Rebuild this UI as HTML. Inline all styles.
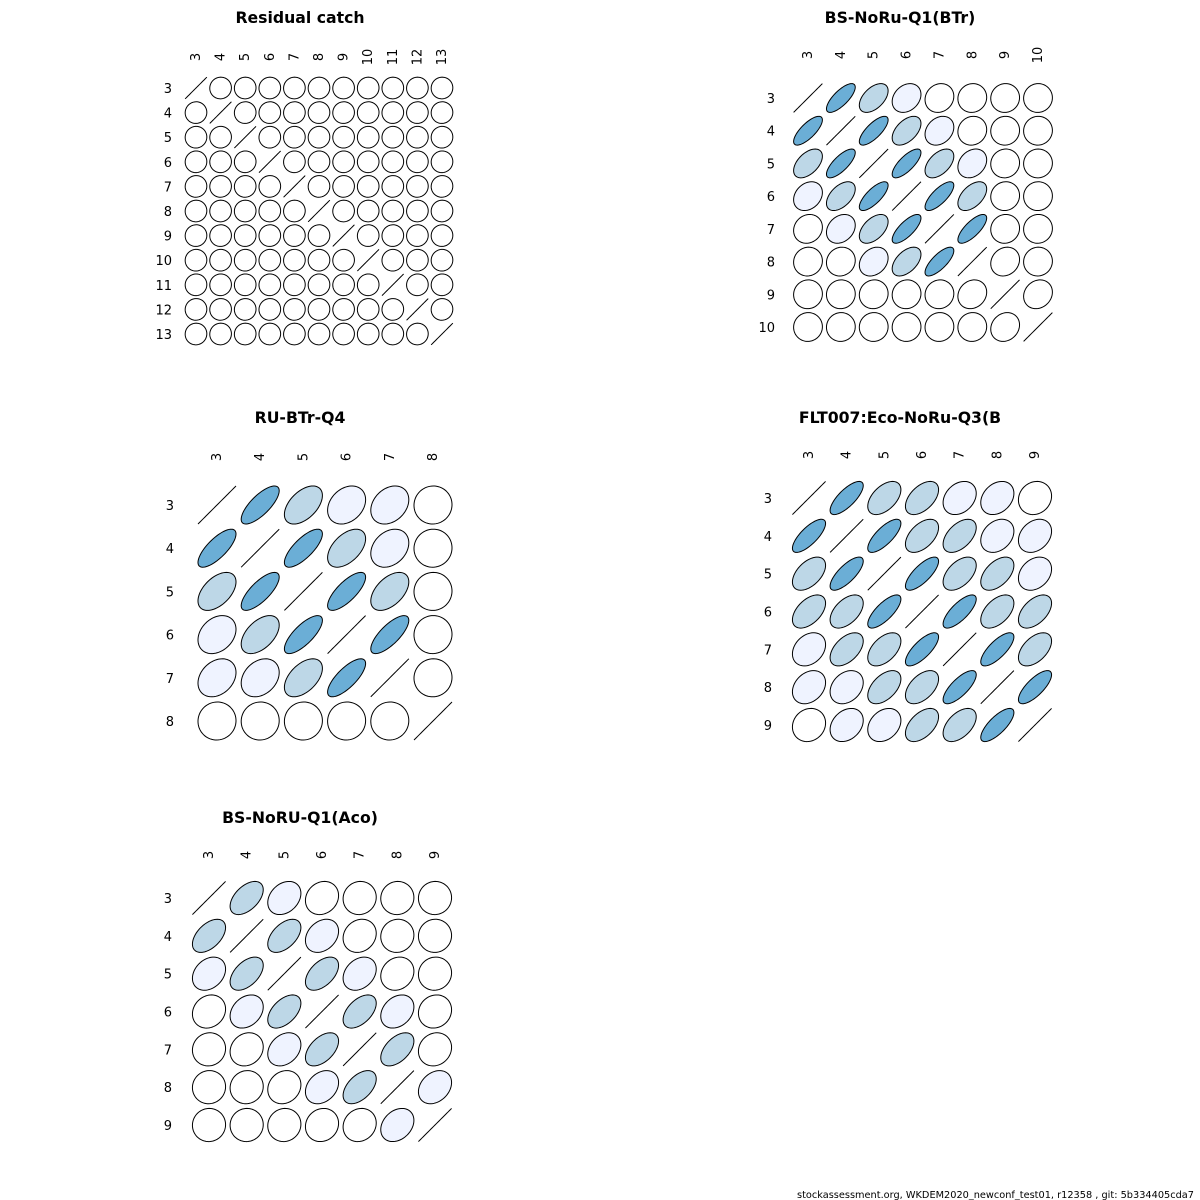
<!DOCTYPE html>
<html><head><meta charset="utf-8"><style>
html,body{margin:0;padding:0;background:#fff}
svg{display:block;font-family:"DejaVu Sans","Liberation Sans",sans-serif}
</style></head><body>
<svg id="chart" width="1200" height="1200" viewBox="0 0 1200 1200">
<text x="1194" y="1198" font-size="10" text-anchor="end" textLength="397" lengthAdjust="spacingAndGlyphs">stockassessment.org, WKDEM2020_newconf_test01, r12358 , git: 5b334405cda7</text>
</svg>
<script>
// correlation values: upper-triangle rows (row i holds r(i, j) for j>i)
const ages_p1 = [3,4,5,6,7,8,9,10,11,12,13];
const upper_p1 = [
 [0.02,0.02,0.02,0.02,0.02,0.02,0.02,0.02,0.02,0.02],
 [0.02,0.02,0.02,0.02,0.02,0.02,0.02,0.02,0.02],
 [0.02,0.02,0.02,0.02,0.02,0.02,0.02,0.02],
 [0.02,0.02,0.02,0.02,0.02,0.02,0.02],
 [0.02,0.02,0.02,0.02,0.02,0.02],
 [0.02,0.02,0.02,0.02,0.02],
 [0.02,0.02,0.02,0.02],
 [0.02,0.02,0.02],
 [0.02,0.02],
 [0.02]
];
const ages_p2 = [3,4,5,6,7,8,9,10];
const upper_p2 = [
 [0.75,0.5,0.25,0.12,0.05,0.03,0.02],
 [0.75,0.5,0.25,0.08,0.03,0.02],
 [0.75,0.5,0.25,0.05,0.02],
 [0.75,0.5,0.05,0.02],
 [0.75,0.05,0.03],
 [0.15,0.03],
 [0.15]
];
const ages_p3 = [3,4,5,6,7,8];
const upper_p3 = [
 [0.75,0.5,0.28,0.28,0.02],
 [0.75,0.5,0.28,0.02],
 [0.75,0.5,0.02],
 [0.75,0.02],
 [0.02]
];
const ages_p4 = [3,4,5,6,7,8,9];
const upper_p4 = [
 [0.75,0.5,0.5,0.28,0.28,0.12],
 [0.75,0.5,0.5,0.28,0.28],
 [0.75,0.5,0.5,0.28],
 [0.75,0.5,0.5],
 [0.75,0.5],
 [0.75]
];
const ages_p5 = [3,4,5,6,7,8,9];
const upper_p5 = [
 [0.5,0.28,0.15,0.05,0.03,0.02],
 [0.5,0.28,0.15,0.05,0.02],
 [0.5,0.28,0.15,0.05],
 [0.5,0.28,0.1],
 [0.5,0.12],
 [0.28]
];
const titles = ["Residual catch","BS-NoRu-Q1(BTr)","RU-BTr-Q4","FLT007:Eco-NoRu-Q3(B","BS-NoRU-Q1(Aco)"];

const NS="http://www.w3.org/2000/svg";
const svg=document.getElementById('chart');
function mk(tag,attrs,parent){const e=document.createElementNS(NS,tag);for(const k in attrs)e.setAttribute(k,attrs[k]);(parent||svg).appendChild(e);return e;}
function colorFor(r){const a=Math.abs(r);if(a>=0.65)return"#6BAED6";if(a>=0.4)return"#BDD7E7";if(a>=0.2)return"#EFF3FF";return"#FFFFFF";}
function val(up,i,j){if(i===j)return 1;const a=Math.min(i,j),b=Math.max(i,j);return up[a][b-a-1];}

const panels=[
 {ages:ages_p1,up:upper_p1,tx:300,ty:23,x0:196,x1:442,y0:88,y1:334,lx:172,cy:57},
 {ages:ages_p2,up:upper_p2,tx:900,ty:23,x0:808,x1:1038,y0:98,y1:327,lx:775,cy:55},
 {ages:ages_p3,up:upper_p3,tx:300,ty:423,x0:217,x1:433,y0:505,y1:721,lx:174,cy:457},
 {ages:ages_p4,up:upper_p4,tx:900,ty:423,x0:809,x1:1035,y0:498,y1:725,lx:772,cy:455},
 {ages:ages_p5,up:upper_p5,tx:300,ty:823,x0:209,x1:435,y0:898,y1:1125,lx:172,cy:855}
];
panels.forEach((p,pi)=>{
 const g=mk('g',{});
 
 
 const n=p.ages.length;
 const sx=(p.x1-p.x0)/(n-1), sy=(p.y1-p.y0)/(n-1);
 const R=Math.min(sx,sy)*0.44;
 const t=mk('text',{x:p.tx,y:p.ty,'font-size':15.7,'font-weight':'bold','text-anchor':'middle'},g);
 t.textContent=titles[pi];
 
 
 for(let k=0;k<n;k++){
  const cx=p.x0+k*sx;
  const c=mk('text',{x:0,y:0,'font-size':13,'text-anchor':'middle',transform:`translate(${cx+4},${p.cy}) rotate(-90)`},g);
  c.textContent=p.ages[k];
  
  
  const ry=p.y0+k*sy;
  const r=mk('text',{x:p.lx,y:ry+5,'font-size':13,'text-anchor':'end'},g);
  r.textContent=p.ages[k];
  
  
 }
 for(let i=0;i<n;i++)for(let j=0;j<n;j++){
  const v=val(p.up,i,j);
  const cx=p.x0+j*sx, cy=p.y0+i*sy;
  const d=Math.acos(Math.max(-1,Math.min(1,v)));
  let pts=[];
  for(let s=0;s<=72;s++){const th=s/72*2*Math.PI;pts.push((cx+R*Math.cos(th+d/2)).toFixed(2)+','+(cy-R*Math.cos(th-d/2)).toFixed(2));}
  const e=mk('polygon',{points:pts.join(' '),fill:i===j?'none':colorFor(v),stroke:'#000','stroke-width':1},g);
  
  
 }
});
</script>
</body></html>
